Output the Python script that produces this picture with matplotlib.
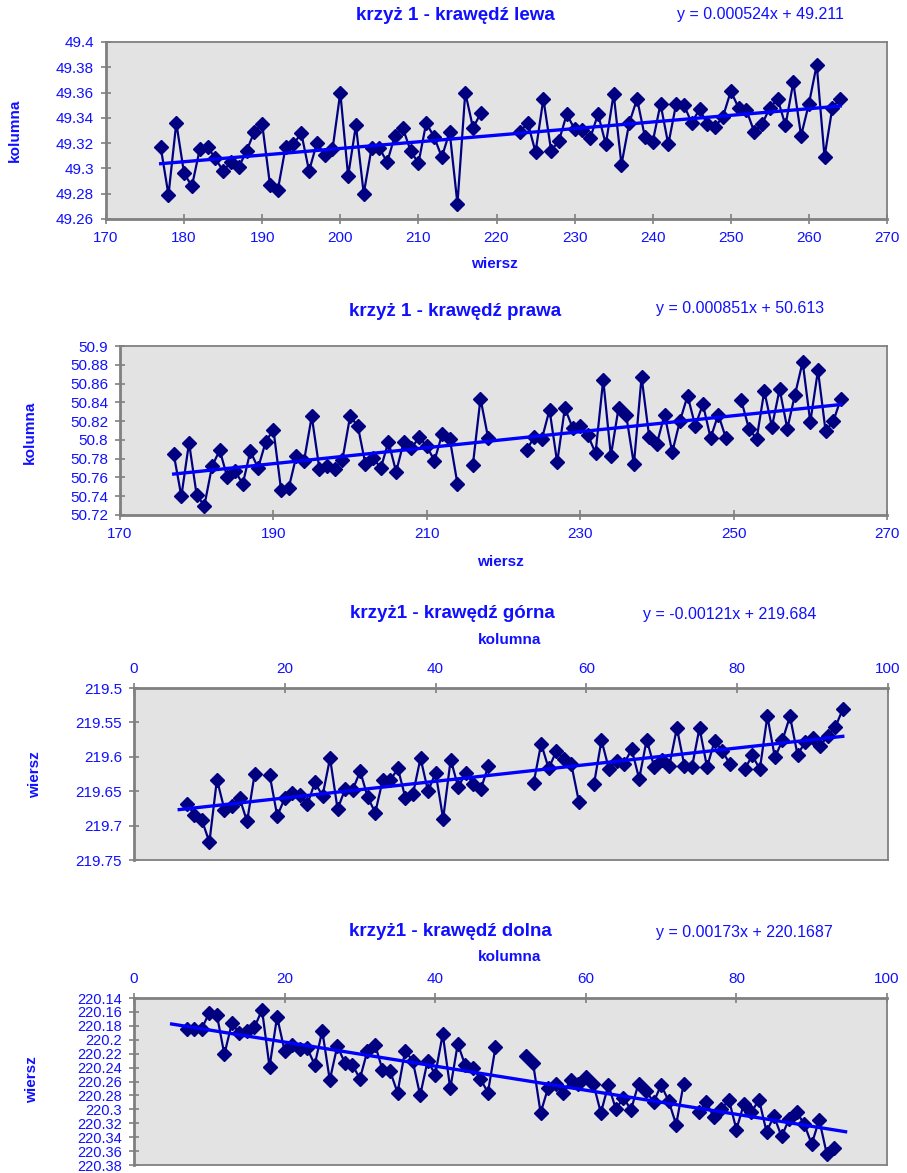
import numpy as np
import matplotlib.pyplot as plt

plt.rcParams['font.family'] = ['Liberation Sans', 'DejaVu Sans']

W, H = 907, 1173
BLUE = '#1010ff'
NAVY = '#000080'
GREY = '#808080'

# --- krzyz 1 - krawedz lewa
lewa_x = [177, 178, 179, 180, 181, 182, 183, 184, 185, 186, 187, 188, 189, 190,
          191, 192, 193, 194, 195, 196, 197, 198, 199, 200, 201, 202, 203, 204,
          205, 206, 207, 208, 209, 210, 211, 212, 213, 214, 215, 216, 217, 218,
          223, 224, 225, 226, 227, 228, 229, 230, 231, 232, 233, 234, 235, 236,
          237, 238, 239, 240, 241, 242, 243, 244, 245, 246, 247, 248, 249, 250,
          251, 252, 253, 254, 255, 256, 257, 258, 259, 260, 261, 262, 263, 264]
lewa_y = [49.317, 49.279, 49.336, 49.296, 49.286, 49.315, 49.317, 49.308, 49.298,
          49.305, 49.301, 49.314, 49.329, 49.335, 49.287, 49.283, 49.317, 49.319,
          49.328, 49.298, 49.320, 49.311, 49.315, 49.360, 49.294, 49.334, 49.280,
          49.316, 49.316, 49.305, 49.326, 49.332, 49.314, 49.304, 49.336, 49.325,
          49.309, 49.329, 49.272, 49.360, 49.332, 49.344,
          49.329, 49.336, 49.313, 49.355, 49.314, 49.322, 49.343, 49.331, 49.330,
          49.324, 49.343, 49.319, 49.359, 49.303, 49.336, 49.355, 49.325, 49.321,
          49.351, 49.319, 49.351, 49.350, 49.336, 49.347, 49.335, 49.333, 49.341,
          49.361, 49.348, 49.346, 49.329, 49.335, 49.348, 49.355, 49.334, 49.368,
          49.326, 49.351, 49.382, 49.309, 49.348, 49.355]

# --- krzyz 1 - krawedz prawa
prawa_x = [177, 178, 179, 180, 181, 182, 183, 184, 185, 186, 187, 188, 189, 190,
           191, 192, 193, 194, 195, 196, 197, 198, 199, 200, 201, 202, 203, 204,
           205, 206, 207, 208, 209, 210, 211, 212, 213, 214, 216, 217, 218,
           223, 224, 225, 226, 227, 228, 229, 230, 231, 232, 233, 234, 235, 236,
           237, 238, 239, 240, 241, 242, 243, 244, 245, 246, 247, 248, 249,
           251, 252, 253, 254, 255, 256, 257, 258, 259, 260, 261, 262, 263, 264]
prawa_y = [50.785, 50.740, 50.797, 50.741, 50.730, 50.772, 50.789, 50.760, 50.767,
           50.753, 50.788, 50.770, 50.798, 50.811, 50.747, 50.749, 50.783, 50.778,
           50.825, 50.769, 50.772, 50.769, 50.779, 50.825, 50.815, 50.774, 50.781,
           50.770, 50.798, 50.766, 50.798, 50.791, 50.803, 50.793, 50.778, 50.806,
           50.801, 50.753, 50.773, 50.844, 50.802,
           50.789, 50.803, 50.801, 50.832, 50.776, 50.834, 50.813, 50.815, 50.805,
           50.786, 50.864, 50.783, 50.834, 50.826, 50.774, 50.867, 50.803, 50.796,
           50.827, 50.787, 50.820, 50.847, 50.815, 50.838, 50.802, 50.827, 50.802,
           50.842, 50.812, 50.801, 50.852, 50.814, 50.854, 50.812, 50.848, 50.883,
           50.819, 50.874, 50.809, 50.820, 50.844]

# --- krzyz1 - krawedz gorna
gorna_x = [7, 8, 9, 10, 11, 12, 13, 14, 15, 16,
           18, 19, 20, 21, 22, 23, 24, 25, 26, 27, 28, 29, 30, 31, 32, 33, 34, 35,
           36, 37, 38, 39, 40, 41, 42, 43, 44, 45, 46, 47,
           53, 54, 55, 56, 57, 58, 59,
           61, 62, 63, 64, 65, 66, 67, 68, 69, 70, 71, 72, 73, 74, 75, 76, 77, 78, 79,
           81, 82, 83, 84, 85, 86, 87, 88, 89, 90, 91, 92, 93, 94]
gorna_y = [219.668, 219.684, 219.692, 219.724, 219.633, 219.677, 219.671, 219.660,
           219.694, 219.625,
           219.627, 219.686, 219.660, 219.653, 219.656, 219.669, 219.637, 219.657,
           219.602, 219.676, 219.647, 219.648, 219.621, 219.659, 219.681, 219.633,
           219.634, 219.617, 219.660, 219.654, 219.602, 219.650, 219.623, 219.690,
           219.604, 219.644, 219.623, 219.640, 219.647, 219.613,
           219.638, 219.581, 219.617, 219.592, 219.603, 219.611, 219.665,
           219.640, 219.576, 219.618, 219.606, 219.610, 219.589, 219.632, 219.575,
           219.615, 219.604, 219.613, 219.558, 219.613, 219.615, 219.558, 219.615,
           219.577, 219.591, 219.610,
           219.618, 219.598, 219.618, 219.541, 219.601, 219.576, 219.541, 219.597,
           219.579, 219.572, 219.584, 219.570, 219.557, 219.531]

# --- krzyz1 - krawedz dolna
dolna_x = [7, 8, 9, 10, 11, 12, 13, 14, 15, 16, 17, 18, 19, 20, 21, 22, 23, 24,
           25, 26, 27, 28, 29, 30, 31, 32, 33, 34, 35, 36, 37, 38, 39, 40, 41, 42,
           43, 44, 45, 46, 47, 48,
           52, 53, 54, 55, 56, 57, 58, 59, 60, 61, 62, 63, 64, 65, 66, 67, 68, 69,
           70, 71, 72, 73,
           75, 76, 77, 78, 79, 80, 81, 82, 83, 84, 85, 86, 87, 88, 89, 90, 91, 92, 93]
dolna_y = [220.184, 220.184, 220.184, 220.161, 220.164, 220.221, 220.176, 220.191,
           220.188, 220.182, 220.157, 220.239, 220.167, 220.216, 220.207, 220.214,
           220.212, 220.236, 220.187, 220.258, 220.209, 220.233, 220.236, 220.256,
           220.216, 220.207, 220.243, 220.245, 220.276, 220.216, 220.230, 220.280,
           220.230, 220.250, 220.192, 220.270, 220.206, 220.237, 220.240, 220.256,
           220.276, 220.211,
           220.223, 220.234, 220.305, 220.269, 220.263, 220.277, 220.258, 220.263,
           220.254, 220.263, 220.305, 220.265, 220.300, 220.283, 220.301, 220.263,
           220.273, 220.290, 220.265, 220.288, 220.322, 220.263,
           220.304, 220.290, 220.311, 220.300, 220.286, 220.329, 220.292, 220.304,
           220.286, 220.332, 220.310, 220.339, 220.314, 220.304, 220.321, 220.350,
           220.315, 220.364, 220.355]

# trend lines (slope, intercept, x range) as printed on the chart
trend_a = [0.000524, 0.000851, -0.00121, 0.00173]
trend_b = [49.211, 50.613, 219.684, 220.1687]
trend_x0 = [177, 177, 6, 5]
trend_x1 = [264, 264, 94, 94.5]

titles = ['krzyż 1 - krawędź lewa', 'krzyż 1 - krawędź prawa',
          'krzyż1 - krawędź górna', 'krzyż1 - krawędź dolna']
equations = ['y = 0.000524x + 49.211', 'y = 0.000851x + 50.613',
             'y = -0.00121x + 219.684', 'y = 0.00173x + 220.1687']

lewa_yticks = [49.26, 49.28, 49.3, 49.32, 49.34, 49.36, 49.38, 49.4]
prawa_yticks = [50.72, 50.74, 50.76, 50.78, 50.8, 50.82, 50.84, 50.86, 50.88, 50.9]
gorna_yticks = [219.5, 219.55, 219.6, 219.65, 219.7, 219.75]
dolna_yticks = [220.14, 220.16, 220.18, 220.2, 220.22, 220.24, 220.26, 220.28,
                220.3, 220.32, 220.34, 220.36, 220.38]
lewa_xticks = [170, 180, 190, 200, 210, 220, 230, 240, 250, 260, 270]
prawa_xticks = [170, 190, 210, 230, 250, 270]
kol_xticks = [0, 20, 40, 60, 80, 100]


def px_axes(fig, l, t, r, b):
    return fig.add_axes([l / W, 1 - b / H, (r - l) / W, (b - t) / H])


def ftext(fig, x, y, s, **kw):
    kw.setdefault('color', BLUE)
    kw.setdefault('ha', 'center')
    kw.setdefault('va', 'center')
    fig.text(x / W, 1 - y / H, s, **kw)


def with_gaps(x, y):
    x = np.asarray(x, float)
    y = np.asarray(y, float)
    cut = np.where(np.diff(x) > 1)[0] + 1
    return np.insert(x, cut, np.nan), np.insert(y, cut, np.nan)


def draw(ax, x, y, i, xticks, yticks, xlim, ylim, top=False, ysize=11):
    ax.set_facecolor('#e3e3e3')
    gx, gy = with_gaps(x, y)
    ax.plot(gx, gy, color=NAVY, lw=1.6, marker='D', ms=7, mfc=NAVY, mec=NAVY)
    tx = np.array([trend_x0[i], trend_x1[i]])
    ax.plot(tx, trend_a[i] * tx + trend_b[i], color='#0000ff', lw=2.4)
    ax.set_xlim(*xlim)
    ax.set_ylim(*ylim)
    ax.set_xticks(xticks)
    ax.set_xticklabels([f'{v:g}' for v in xticks])
    ax.set_yticks(yticks)
    ax.set_yticklabels([f'{v:g}' for v in yticks])
    if top:
        ax.xaxis.tick_top()
    ax.tick_params(direction='inout', length=7, width=1.2, color=GREY,
                   labelcolor=BLUE, labelsize=11, pad=5)
    ax.tick_params(axis='y', labelsize=ysize)
    for s in ax.spines.values():
        s.set_color(GREY)
        s.set_linewidth(1.3)
    ax.spines['left'].set_linewidth(2)
    ax.spines['top' if top else 'bottom'].set_linewidth(2)


fig = plt.figure(figsize=(W / 100, H / 100), dpi=100)

ax1 = px_axes(fig, 106, 42, 887, 219)
draw(ax1, lewa_x, lewa_y, 0, lewa_xticks, lewa_yticks, (170, 270), (49.26, 49.4))
ftext(fig, 455, 16, titles[0], fontsize=13.5, fontweight='bold')
ftext(fig, 760, 15, equations[0], fontsize=11.5)
ftext(fig, 494, 264, 'wiersz', fontsize=11, fontweight='bold')
ftext(fig, 15, 130, 'kolumna', fontsize=11, fontweight='bold', rotation=90)

ax2 = px_axes(fig, 120, 346, 887, 515)
draw(ax2, prawa_x, prawa_y, 1, prawa_xticks, prawa_yticks, (170, 270), (50.72, 50.9))
ftext(fig, 455, 312, titles[1], fontsize=13.5, fontweight='bold')
ftext(fig, 740, 308, equations[1], fontsize=11.5)
ftext(fig, 500, 562, 'wiersz', fontsize=11, fontweight='bold')
ftext(fig, 30, 432, 'kolumna', fontsize=11, fontweight='bold', rotation=90)

ax3 = px_axes(fig, 134, 688, 888, 860)
draw(ax3, gorna_x, gorna_y, 2, kol_xticks, gorna_yticks, (0, 100), (219.75, 219.5), top=True)
ftext(fig, 452, 613, titles[2], fontsize=13.5, fontweight='bold')
ftext(fig, 730, 614, equations[2], fontsize=11.5)
ftext(fig, 510, 640, 'kolumna', fontsize=11, fontweight='bold')
ftext(fig, 35, 775, 'wiersz', fontsize=11, fontweight='bold', rotation=90)

ax4 = px_axes(fig, 134, 998, 887, 1165)
draw(ax4, dolna_x, dolna_y, 3, kol_xticks, dolna_yticks, (0, 100), (220.38, 220.14),
     top=True, ysize=10.5)
ftext(fig, 450, 932, titles[3], fontsize=13.5, fontweight='bold')
ftext(fig, 744, 932, equations[3], fontsize=11.5)
ftext(fig, 510, 957, 'kolumna', fontsize=11, fontweight='bold')
ftext(fig, 32, 1080, 'wiersz', fontsize=11, fontweight='bold', rotation=90)

fig.savefig('out.png', dpi=100)
